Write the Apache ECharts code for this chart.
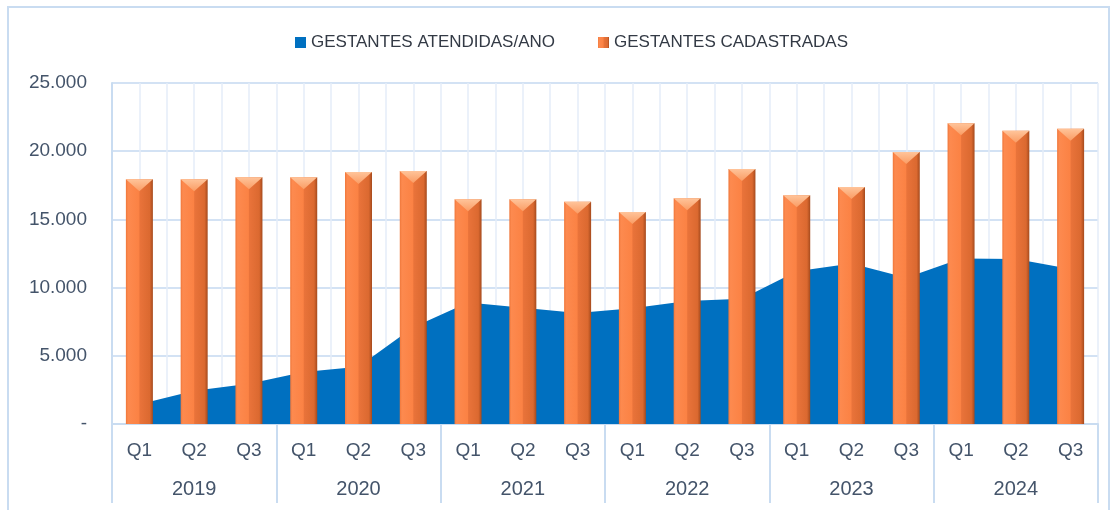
<!DOCTYPE html>
<html>
<head>
<meta charset="utf-8">
<script src="https://cdn.jsdelivr.net/npm/echarts@6/dist/echarts.min.js"></script>
<style>
  html, body { margin: 0; padding: 0; background: #fff; }
  #main { width: 1116px; height: 510px; }
</style>
</head>
<body>
<div id="main"></div>
<script>
// categorias
var anos = ['2019', '2020', '2021', '2022', '2023', '2024'];
var trimestres = ['Q1', 'Q2', 'Q3'];
// valores
var atendidas = [1450, 2440, 2955, 3815, 4200, 7100, 8900, 8520, 8140, 8480, 9010, 9180, 11200, 11760, 10730, 12140, 12100, 11360];
var cadastradas = [17940, 17940, 18090, 18090, 18480, 18550, 16470, 16470, 16300, 15540, 16550, 18700, 16770, 17380, 19940, 22040, 21500, 21650];
var yTicks = [0, 5000, 10000, 15000, 20000, 25000];

var qLabels = [];
anos.forEach(function () { trimestres.forEach(function (q) { qLabels.push(q); }); });
// eixo auxiliar so para as linhas verticais a cada meia categoria
var meias = [];
for (var i = 0; i < qLabels.length * 2; i++) meias.push('');

function fmt(v) {
  if (v === 0) return '-';
  return String(v).replace(/\B(?=(\d{3})+(?!\d))/g, '.');
}

var fonte = '"Liberation Sans", Arial, sans-serif';
var txt = '#44546a';
var azulClaro = '#c9dcf1';

var barGrad = new echarts.graphic.LinearGradient(0, 0, 1, 0, [
  { offset: 0, color: '#ef773a' },
  { offset: 0.08, color: '#fd8a4f' },
  { offset: 0.48, color: '#fb8244' },
  { offset: 0.52, color: '#e9733a' },
  { offset: 0.88, color: '#db6930' },
  { offset: 1, color: '#a54a1d' }
]);
var topGrad = new echarts.graphic.LinearGradient(0, 0, 0, 1, [
  { offset: 0, color: '#ffc49a' },
  { offset: 1, color: '#fa9c64' }
]);

var chart = echarts.init(document.getElementById('main'), null, { renderer: 'canvas' });
var option = {
  animation: false,
  backgroundColor: '#fff',
  textStyle: { fontFamily: fonte },
  graphic: [{
    type: 'rect',
    shape: { x: 8, y: 7, width: 1101, height: 510 },
    style: { fill: 'none', stroke: azulClaro, lineWidth: 2 },
    silent: true
  }],
  legend: {
    left: 290,
    top: 29,
    itemWidth: 11,
    itemHeight: 11,
    itemGap: 43,
    icon: 'rect',
    textStyle: { fontSize: 17, color: '#333a45', fontFamily: fonte },
    data: ['GESTANTES ATENDIDAS/ANO', 'GESTANTES CADASTRADAS']
  },
  grid: { left: 112, right: 18, top: 83, bottom: 86, containLabel: false },
  xAxis: [{
    type: 'category',
    data: qLabels,
    axisLine: { show: true, lineStyle: { color: azulClaro, width: 2 } },
    axisTick: { show: false },
    axisLabel: { color: txt, fontSize: 19, margin: 17, interval: 0 },
    splitLine: { show: false }
  }, {
    type: 'category',
    data: anos,
    position: 'bottom',
    axisLine: { show: false },
    axisTick: { show: true, length: 79, lineStyle: { color: azulClaro, width: 2 } },
    axisLabel: { color: txt, fontSize: 20, margin: 55, interval: 0 },
    splitLine: { show: false }
  }, {
    type: 'category',
    data: meias,
    position: 'bottom',
    axisLine: { show: false },
    axisTick: { show: false },
    axisLabel: { show: false },
    splitLine: { show: true, interval: 0, lineStyle: { color: '#e4edf9', width: 1.5 } }
  }],
  yAxis: {
    type: 'value',
    min: yTicks[0],
    max: yTicks[yTicks.length - 1],
    interval: yTicks[1] - yTicks[0],
    axisLine: { show: true, lineStyle: { color: azulClaro, width: 2 } },
    axisTick: { show: false },
    axisLabel: { color: txt, fontSize: 19, margin: 25, formatter: fmt },
    splitLine: { show: true, lineStyle: { color: '#d3e2f4', width: 2 } }
  },
  series: [{
    name: 'GESTANTES ATENDIDAS/ANO',
    type: 'line',
    data: atendidas,
    showSymbol: false,
    symbol: 'none',
    itemStyle: { color: '#0070c0' },
    lineStyle: { width: 0, color: '#0070c0' },
    areaStyle: { color: '#0070c0', opacity: 1 },
    z: 2
  }, {
    name: 'GESTANTES CADASTRADAS',
    type: 'bar',
    data: cadastradas,
    barWidth: 27,
    itemStyle: { color: barGrad },
    z: 3
  }, {
    name: 'topo',
    type: 'pictorialBar',
    data: cadastradas,
    symbol: 'path://M0,0 L2,0 L1,1 Z',
    symbolSize: [27, 12],
    symbolPosition: 'end',
    symbolOffset: [0, 0],
    itemStyle: { color: topGrad },
    z: 4,
    silent: true
  }]
};
chart.setOption(option);
</script>
</body>
</html>
